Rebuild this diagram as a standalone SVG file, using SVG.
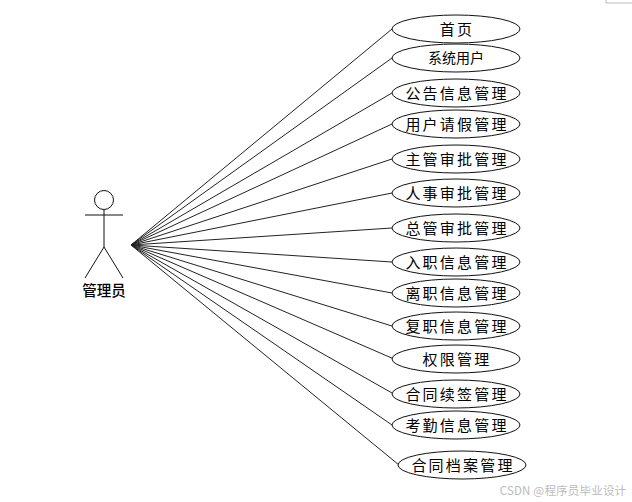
<svg xmlns="http://www.w3.org/2000/svg" width="632" height="502" viewBox="0 0 632 502">
<style>
.u{fill:#fff;stroke:#111;stroke-width:1}
.c{stroke:#222;stroke-width:1;fill:none}
.a{stroke:#111;stroke-width:1;fill:none}
text{font-family:"Noto Sans CJK SC",sans-serif;font-size:15px;fill:#000;text-anchor:middle;letter-spacing:2.2px}
</style>
<rect width="632" height="502" fill="#fff"/>
<path d="M606 0V3H632" fill="none" stroke="#bbb"/>
<g id="connectors">
<path class="c" d="M131 245L392 29"/>
<path class="c" d="M131 245L392 58"/>
<path class="c" d="M131 245L392 93"/>
<path class="c" d="M131 245L392 124"/>
<path class="c" d="M131 245L392 159"/>
<path class="c" d="M131 245L392 193"/>
<path class="c" d="M131 245L392 228"/>
<path class="c" d="M131 245L392 262"/>
<path class="c" d="M131 245L392 293"/>
<path class="c" d="M131 245L392 326"/>
<path class="c" d="M131 245L394 359"/>
<path class="c" d="M131 245L392 393"/>
<path class="c" d="M131 245L392 425"/>
<path class="c" d="M131 245L399 465"/>
</g>
<g id="actor">
<circle class="a" cx="104" cy="200" r="9.5"/>
<path class="a" d="M104 210V247M85 215H123M104 247L85 278M104 247L123 278"/>
<text x="104" y="296" style="font-size:14.5px;letter-spacing:0;font-weight:500">管理员</text>
</g>
<g id="n1"><ellipse class="u" cx="456" cy="29" rx="64" ry="14"/><text x="457" y="35">首页</text></g>
<g id="n2"><ellipse class="u" cx="456" cy="58" rx="64" ry="14"/><text x="456" y="63" style="font-size:14px;letter-spacing:0">系统用户</text></g>
<g id="n3"><ellipse class="u" cx="456" cy="93" rx="64" ry="14"/><text x="457" y="99">公告信息管理</text></g>
<g id="n4"><ellipse class="u" cx="456" cy="124" rx="64" ry="14"/><text x="457" y="130">用户请假管理</text></g>
<g id="n5"><ellipse class="u" cx="456" cy="159" rx="64" ry="14"/><text x="457" y="165">主管审批管理</text></g>
<g id="n6"><ellipse class="u" cx="456" cy="193" rx="64" ry="14"/><text x="457" y="199">人事审批管理</text></g>
<g id="n7"><ellipse class="u" cx="456" cy="228" rx="64" ry="14"/><text x="457" y="234">总管审批管理</text></g>
<g id="n8"><ellipse class="u" cx="456" cy="262" rx="64" ry="14"/><text x="457" y="268">入职信息管理</text></g>
<g id="n9"><ellipse class="u" cx="456" cy="293" rx="64" ry="14"/><text x="457" y="299">离职信息管理</text></g>
<g id="n10"><ellipse class="u" cx="456" cy="326" rx="64" ry="14"/><text x="457" y="332">复职信息管理</text></g>
<g id="n11"><ellipse class="u" cx="456" cy="359" rx="64" ry="14"/><text x="457" y="365">权限管理</text></g>
<g id="n12"><ellipse class="u" cx="456" cy="394" rx="64" ry="14"/><text x="457" y="400">合同续签管理</text></g>
<g id="n13"><ellipse class="u" cx="456" cy="425" rx="64" ry="14"/><text x="457" y="431">考勤信息管理</text></g>
<g id="n14"><ellipse class="u" cx="462" cy="465" rx="64" ry="14"/><text x="463" y="471">合同档案管理</text></g>
<text x="563" y="495" style="font-size:11.5px;fill:#bbb;letter-spacing:0.2px">CSDN @程序员毕业设计</text>
</svg>
